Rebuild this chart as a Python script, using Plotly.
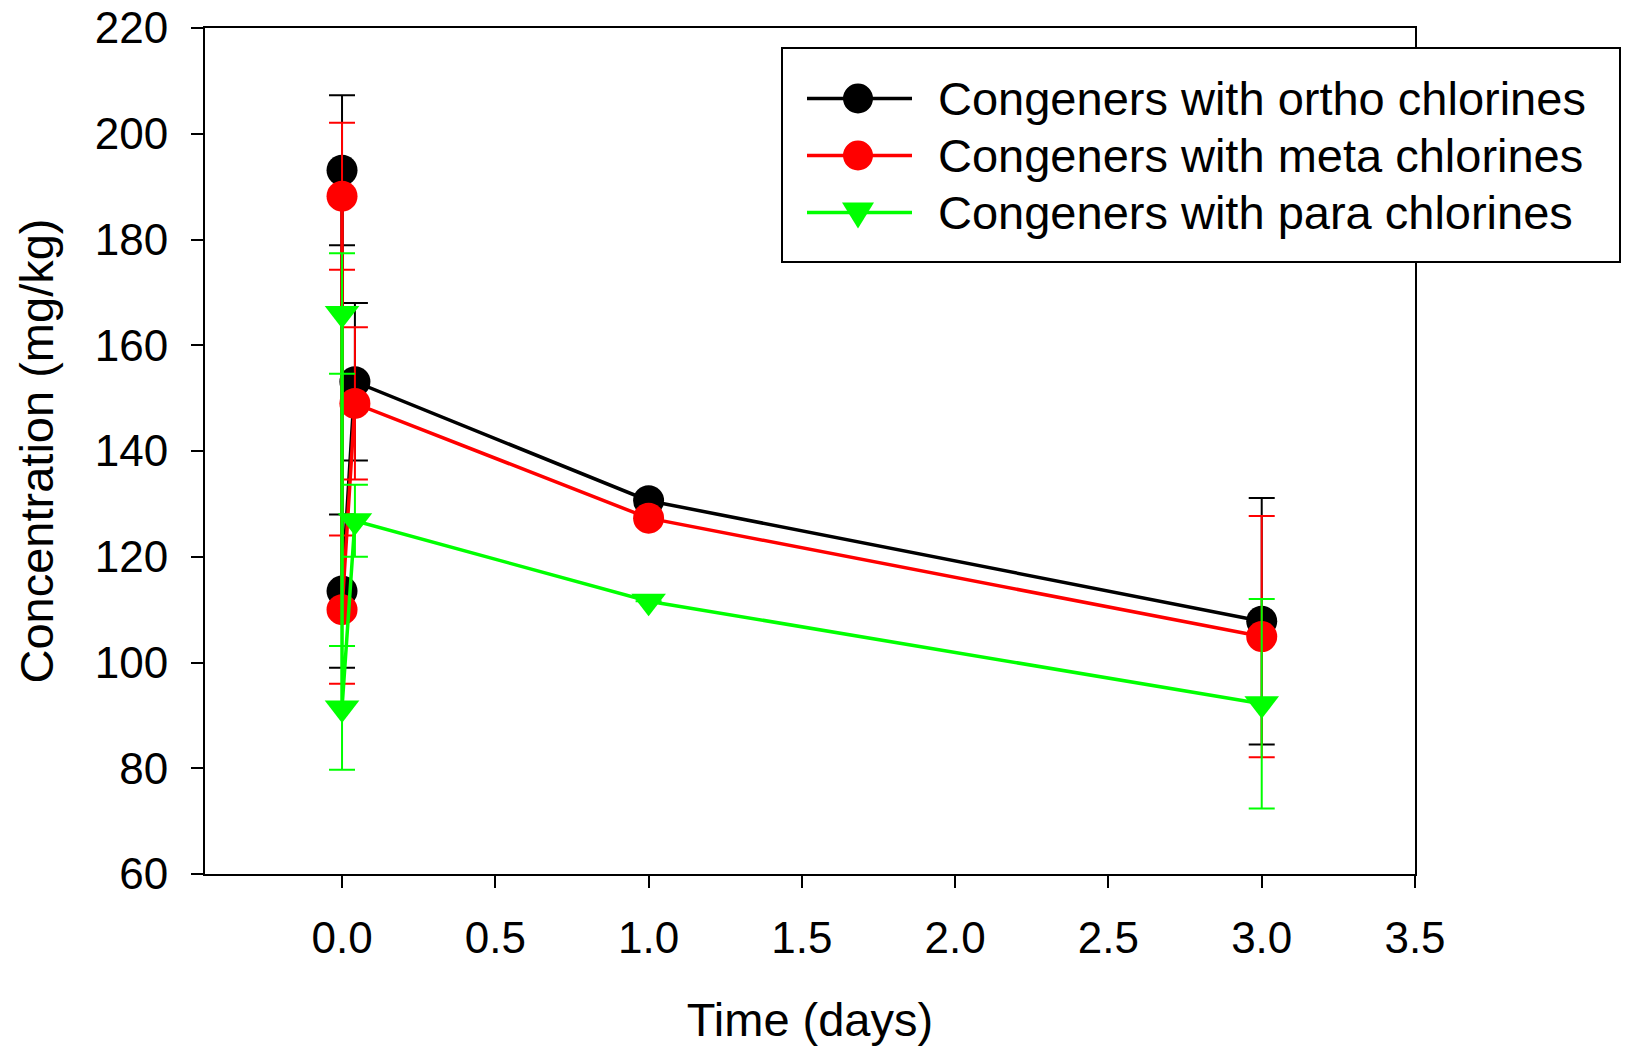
import plotly.graph_objects as go

# Sampling times (days); two samples at day 0, one after ~1 h
time_days = [0.0, 0.0, 0.042, 1.0, 3.0]

# Day-1 spreads are not shown (no error bar at that time point)
ortho_conc = [193.1, 113.5, 153.1, 130.6, 107.8]
ortho_err = [14.2, 14.5, 14.9, None, 23.3]

meta_conc = [188.2, 110.0, 149.0, 127.3, 104.9]
meta_err = [13.9, 14.0, 14.4, None, 22.8]

para_conc = [166.0, 91.4, 126.8, 111.6, 92.2]
para_err = [11.4, 11.7, 6.8, None, 19.8]

series_names = [
    "Congeners with ortho chlorines",
    "Congeners with meta chlorines",
    "Congeners with para chlorines",
]
series_colors = ["#000000", "#ff0000", "#00ff00"]
series_symbols = ["circle", "circle", "triangle-down"]

x_ticks = [0.0, 0.5, 1.0, 1.5, 2.0, 2.5, 3.0, 3.5]
y_ticks = [60, 80, 100, 120, 140, 160, 180, 200, 220]

FONT = "Liberation Sans, Arial, sans-serif"
W, H = 1626, 1046
LEFT, TOP, BOTTOM = 205, 28, 172
AXIS_RIGHT = 1415
plot_w = W - LEFT
plot_h = H - TOP - BOTTOM


def px_x(px):
    return (px - LEFT) / plot_w


def px_y(py):
    return (H - BOTTOM - py) / plot_h


fig = go.Figure()

data = [(ortho_conc, ortho_err), (meta_conc, meta_err), (para_conc, para_err)]
for (vals, errs), name, color, sym in zip(data, series_names, series_colors, series_symbols):
    fig.add_trace(go.Scatter(
        x=time_days, y=vals, name=name, mode="lines+markers",
        line=dict(color=color, width=3.5),
        marker=dict(color=color, size=31 if sym == "circle" else 30, symbol=sym,
                    line=dict(width=0)),
        error_y=dict(type="data", array=errs, visible=True, color=color,
                     thickness=2, width=13),
        showlegend=False,
    ))

# Legend box drawn as shapes + annotations
shapes = [dict(type="rect", xref="paper", yref="paper",
               x0=px_x(782), x1=px_x(1620), y0=px_y(262), y1=px_y(48),
               line=dict(color="black", width=2), fillcolor="white", layer="above")]
annotations = []
row_y = [98.5, 155.5, 212.5]
for ry, name, color, sym in zip(row_y, series_names, series_colors, series_symbols):
    yp = px_y(ry)
    shapes.append(dict(type="line", xref="paper", yref="paper",
                       x0=px_x(807), x1=px_x(912), y0=yp, y1=yp,
                       line=dict(color=color, width=3.5), layer="above"))
    if sym == "circle":
        shapes.append(dict(type="circle", xref="paper", yref="paper",
                           xsizemode="pixel", ysizemode="pixel",
                           xanchor=px_x(858), yanchor=yp,
                           x0=-15, x1=15, y0=-15, y1=15,
                           fillcolor=color, line=dict(width=0), layer="above"))
    else:
        shapes.append(dict(type="path", xref="paper", yref="paper",
                           xsizemode="pixel", ysizemode="pixel",
                           xanchor=px_x(858), yanchor=yp,
                           path="M-16,10 L16,10 L0,-16 Z",
                           fillcolor=color, line=dict(width=0), layer="above"))
    annotations.append(dict(xref="paper", yref="paper", x=px_x(936), y=yp,
                            text=name, showarrow=False, xanchor="left",
                            yanchor="middle",
                            font=dict(family=FONT, size=47, color="black")))

fig.update_layout(
    width=W, height=H,
    margin=dict(l=LEFT, r=0, t=TOP, b=BOTTOM, autoexpand=False),
    paper_bgcolor="white", plot_bgcolor="white",
    font=dict(family=FONT, color="black"),
    shapes=shapes, annotations=annotations,
    xaxis=dict(
        domain=[0, (AXIS_RIGHT - LEFT) / plot_w],
        range=[-0.447, 3.5], tickvals=x_ticks,
        ticktext=[f"{v:.1f}" for v in x_ticks],
        ticks="outside", ticklen=12, tickwidth=2, tickcolor="black",
        showline=True, linecolor="black", linewidth=2, mirror=True,
        showgrid=False, zeroline=False,
        tickfont=dict(family=FONT, size=44, color="black"),
        ticklabelstandoff=12,
        title=dict(text="Time (days)", standoff=56,
                   font=dict(family=FONT, size=47, color="black")),
    ),
    yaxis=dict(
        range=[60, 220], tickvals=y_ticks,
        ticks="outside", ticklen=12, tickwidth=2, tickcolor="black",
        showline=True, linecolor="black", linewidth=2, mirror=True,
        showgrid=False, zeroline=False,
        tickfont=dict(family=FONT, size=44, color="black"),
        ticklabelstandoff=14,
        title=dict(text="Concentration (mg/kg)", standoff=26,
                   font=dict(family=FONT, size=47, color="black")),
    ),
)

fig.write_html("out.html")
